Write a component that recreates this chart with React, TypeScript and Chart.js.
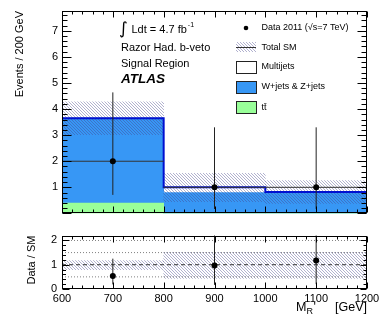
import React, { useEffect, useRef } from 'react';
import { Chart, registerables } from 'chart.js';

Chart.register(...registerables);

// ---------------- data ----------------
const binCenters = [700, 900, 1100];
const binEdges = [600, 800, 1000, 1200];
const ttbarEvents = [0.4, 0.0, 0.0];
const wzJetsEvents = [3.25, 0.8, 0.82];
const multijetEvents = [0.0, 0.2, 0.0];
const smBandLow = [3.02, 0.45, 0.38];
const smBandHigh = [4.28, 1.54, 1.26];
const dataEvents = [2, 1, 1];
const dataErrLow = [0.71, 0.17, 0.17];
const dataErrHigh = [4.64, 3.3, 3.3];
const ratioValues = [0.54, 0.97, 1.17];
const ratioErrLow = [0.19, 0.17, 0.2];
const ratioErrHigh = [1.25, 3.3, 4.0];
const ratioBandLow = [0.8, 0.44, 0.44];
const ratioBandHigh = [1.17, 1.51, 1.51];
const ratioDottedLines = [0.5, 1.5, 2.0];
const ratioUnityLine = [1.0];
const xRange = [600, 1200];
const topYRange = [0, 7.76];
const ratioYRange = [0, 2.2];
const legendLabels = ['Data 2011 (√s=7 TeV)', 'Total SM', 'Multijets', 'W+jets & Z+jets', 'tt̄'];
const infoLines = ['Razor Had. b-veto', 'Signal Region'];

// ---------------- style ----------------
const FONT = '"Liberation Sans", Arial, Helvetica, sans-serif';
const BLUE = '#3797f5';
const GREEN = '#99ff99';
const OUTLINE = '#0010d0';
const HATCH = 'rgba(70,70,140,0.42)';

Chart.defaults.font.family = FONT;
Chart.defaults.color = '#000';

function hatchPattern(): CanvasPattern | string {
  const c = document.createElement('canvas');
  c.width = 3;
  c.height = 3;
  const g = c.getContext('2d');
  if (!g) return HATCH;
  g.fillStyle = HATCH;
  for (let i = 0; i < 3; i++) g.fillRect(i, i, 1, 1);
  return g.createPattern(c, 'repeat') || HATCH;
}

const barCommon = {
  type: 'bar' as const,
  xAxisID: 'xb',
  barPercentage: 1,
  categoryPercentage: 1,
  grouped: false,
  borderWidth: 0,
};

function floating(lo: number[], hi: number[]) {
  return binCenters.map((x, i) => ({ x, y: [lo[i], hi[i]] }));
}

function verticalBars(lo: number[], hi: number[]) {
  const pts: any[] = [];
  binCenters.forEach((x, i) => {
    pts.push({ x, y: lo[i] }, { x, y: hi[i] }, { x, y: null });
  });
  return pts;
}

function horizontalBars(vals: number[]) {
  const pts: any[] = [];
  vals.forEach((v, i) => {
    pts.push({ x: binEdges[i], y: v }, { x: binEdges[i + 1], y: v }, { x: binEdges[i + 1], y: null });
  });
  return pts;
}

function flatLines(vals: number[]) {
  const pts: any[] = [];
  vals.forEach((v) => {
    pts.push({ x: xRange[0], y: v }, { x: xRange[1], y: v }, { x: xRange[1], y: null });
  });
  return pts;
}

type TickCfg = {
  xMajorStep: number; xMinorStep: number; xMajor: number; xMinor: number;
  yMajorStep: number; yMinorStep: number; yMajor: number; yMinor: number; yMajorR: number; yMinorR: number;
};

function framePlugin(cfg: TickCfg) {
  return {
    id: 'rootFrame',
    afterDatasetsDraw(chart: any) {
      const { ctx, chartArea: a, scales } = chart;
      const xs = scales.x;
      const ys = scales.y;
      const L = Math.round(a.left) + 0.5;
      const R = Math.round(a.right) - 0.5;
      const T = Math.round(a.top) + 0.5;
      const B = Math.round(a.bottom) - 0.5;
      ctx.save();
      ctx.strokeStyle = '#000';
      ctx.lineWidth = 1;
      ctx.beginPath();
      const nx = Math.round((xs.max - xs.min) / cfg.xMinorStep);
      for (let k = 0; k <= nx; k++) {
        const v = xs.min + k * cfg.xMinorStep;
        const r = v / cfg.xMajorStep;
        const major = Math.abs(r - Math.round(r)) < 1e-6;
        const len = major ? cfg.xMajor : cfg.xMinor;
        const px = Math.round(xs.getPixelForValue(v)) + 0.5;
        ctx.moveTo(px, B);
        ctx.lineTo(px, B - len);
        ctx.moveTo(px, T);
        ctx.lineTo(px, T + len);
      }
      const ny = Math.floor((ys.max - ys.min) / cfg.yMinorStep + 1e-6);
      for (let k = 0; k <= ny; k++) {
        const v = ys.min + k * cfg.yMinorStep;
        const r = v / cfg.yMajorStep;
        const major = Math.abs(r - Math.round(r)) < 1e-6;
        const py = Math.round(ys.getPixelForValue(v)) + 0.5;
        ctx.moveTo(L, py);
        ctx.lineTo(L + (major ? cfg.yMajor : cfg.yMinor), py);
        ctx.moveTo(R, py);
        ctx.lineTo(R - (major ? cfg.yMajorR : cfg.yMinorR), py);
      }
      ctx.stroke();
      ctx.strokeRect(L, T, R - L, B - T);
      ctx.restore();
    },
  };
}

const topTextPlugin = {
  id: 'atlasText',
  afterDraw(chart: any) {
    const ctx: CanvasRenderingContext2D = chart.ctx;
    const pattern = hatchPattern();
    ctx.save();
    ctx.fillStyle = '#000';
    ctx.textAlign = 'left';
    ctx.textBaseline = 'middle';
    // luminosity
    ctx.font = `17px "DejaVu Sans", ${FONT}`;
    ctx.fillText('∫', 119, 30);
    ctx.font = `11px ${FONT}`;
    const lumi = 'Ldt = 4.7 fb';
    ctx.fillText(lumi, 131.5, 30);
    const lw = ctx.measureText(lumi).width;
    ctx.font = `7px ${FONT}`;
    ctx.fillText('-1', 131.5 + lw + 1, 25.5);
    ctx.font = `11px ${FONT}`;
    ctx.fillText(infoLines[0], 121, 48);
    ctx.fillText(infoLines[1], 121, 63.5);
    ctx.font = `italic bold 13.5px ${FONT}`;
    ctx.fillText('ATLAS', 121, 79.5);

    // legend
    const tx = 261.5;
    const rows = [28, 47.5, 67, 87, 107.5];
    ctx.font = `9px ${FONT}`;
    legendLabels.forEach((lab, i) => ctx.fillText(lab, tx, rows[i]));
    // data marker
    ctx.beginPath();
    ctx.arc(246, rows[0], 2.3, 0, Math.PI * 2);
    ctx.fill();
    // total SM swatch
    ctx.fillStyle = pattern as any;
    ctx.fillRect(236, 42, 20, 10);
    ctx.strokeStyle = '#333';
    ctx.lineWidth = 1;
    ctx.beginPath();
    ctx.moveTo(236, 47.5);
    ctx.lineTo(256, 47.5);
    ctx.stroke();
    const boxes = [
      { y: rows[2], c: '#ffffff' },
      { y: rows[3], c: BLUE },
      { y: rows[4], c: GREEN },
    ];
    boxes.forEach((b) => {
      const top = Math.round(b.y - 6.5) + 0.5;
      ctx.fillStyle = b.c;
      ctx.fillRect(236.5, top, 20, 12);
      ctx.strokeStyle = '#222';
      ctx.strokeRect(236.5, top, 20, 12);
    });
    ctx.restore();
  },
};

const bottomTextPlugin = {
  id: 'xTitle',
  afterDraw(chart: any) {
    const ctx: CanvasRenderingContext2D = chart.ctx;
    ctx.save();
    ctx.fillStyle = '#000';
    ctx.textBaseline = 'alphabetic';
    ctx.textAlign = 'left';
    const base = 87;
    ctx.font = `12.5px ${FONT}`;
    ctx.fillText('M', 296, base);
    const mw = ctx.measureText('M').width;
    ctx.font = `9px ${FONT}`;
    ctx.fillText('R', 296 + mw, base + 3);
    const rw = ctx.measureText('R').width;
    ctx.font = `12.5px ${FONT}`;
    ctx.fillText("'", 296 + mw + rw + 0.5, base);
    ctx.textAlign = 'right';
    ctx.fillText('[GeV]', 367, base);
    ctx.restore();
  },
};

const plainNumber = (v: number) => String(v);

function topConfig(): any {
  const pattern = hatchPattern();
  const totals = binCenters.map((_, i) => ttbarEvents[i] + wzJetsEvents[i] + multijetEvents[i]);
  const wzTop = binCenters.map((_, i) => ttbarEvents[i] + wzJetsEvents[i]);
  const outline = [
    { x: binEdges[0], y: 0 },
    ...binCenters.map((_, i) => ({ x: binEdges[i], y: totals[i] })),
    { x: binEdges[3], y: totals[2] },
    { x: binEdges[3], y: 0 },
  ];
  return {
    type: 'bar',
    data: {
      datasets: [
        { ...barCommon, label: 'tt̄', data: floating([0, 0, 0], ttbarEvents), backgroundColor: GREEN, order: 5 },
        { ...barCommon, label: 'W+jets & Z+jets', data: floating(ttbarEvents, wzTop), backgroundColor: BLUE, order: 6 },
        { ...barCommon, label: 'Multijets', data: floating(wzTop, totals), backgroundColor: '#ffffff', order: 7 },
        { ...barCommon, label: 'Total SM uncertainty', data: floating(smBandLow, smBandHigh), backgroundColor: pattern, order: 4 },
        {
          type: 'line', label: 'Total SM', data: outline, stepped: 'before', borderColor: OUTLINE,
          borderWidth: 2, pointRadius: 0, fill: false, order: 3,
        },
        {
          type: 'line', label: 'Data x-err', data: horizontalBars(dataEvents), borderColor: '#333',
          borderWidth: 1, pointRadius: 0, spanGaps: false, fill: false, order: 2,
        },
        {
          type: 'line', label: 'Data y-err', data: verticalBars(dataErrLow, dataErrHigh), borderColor: '#222',
          borderWidth: 1, pointRadius: 0, spanGaps: false, fill: false, order: 1,
        },
        {
          type: 'line', label: 'Data 2011', data: binCenters.map((x, i) => ({ x, y: dataEvents[i] })),
          showLine: false, pointRadius: 3, pointBackgroundColor: '#000', pointBorderWidth: 0, order: 0,
        },
      ],
    },
    options: {
      responsive: false,
      maintainAspectRatio: false,
      animation: false,
      events: [],
      layout: { padding: { top: 11, right: 23, bottom: 3, left: 0 } },
      plugins: { legend: { display: false }, tooltip: { enabled: false } },
      scales: {
        x: { type: 'linear', min: xRange[0], max: xRange[1], display: false, offset: false, ticks: { stepSize: 100 } },
        xb: { type: 'linear', min: xRange[0], max: xRange[1], display: false, offset: false, ticks: { stepSize: 200 } },
        y: {
          type: 'linear', min: topYRange[0], max: topYRange[1],
          afterFit: (s: any) => { s.width = 62; },
          grid: { display: false, drawTicks: false, tickLength: 0 }, border: { display: false },
          ticks: {
            stepSize: 1, includeBounds: false, padding: 4, color: '#000', font: { size: 11 },
            callback: (v: number) => (v === 0 ? '' : plainNumber(v)),
          },
          title: { display: true, text: 'Events / 200 GeV', align: 'end', color: '#000', font: { size: 11 }, padding: { top: 13, bottom: 0 } },
        },
      },
    },
    plugins: [
      framePlugin({ xMajorStep: 100, xMinorStep: 20, xMajor: 6, xMinor: 3, yMajorStep: 1, yMinorStep: 0.2, yMajor: 9, yMinor: 5, yMajorR: 9, yMinorR: 5 }),
      topTextPlugin,
    ],
  };
}

function bottomConfig(): any {
  const pattern = hatchPattern();
  return {
    type: 'bar',
    data: {
      datasets: [
        { ...barCommon, label: 'SM uncertainty', data: floating(ratioBandLow, ratioBandHigh), backgroundColor: pattern, order: 5 },
        {
          type: 'line', label: 'Reference', data: flatLines(ratioDottedLines), borderColor: '#808080',
          borderWidth: 1, borderDash: [1, 2], pointRadius: 0, spanGaps: false, fill: false, order: 4,
        },
        {
          type: 'line', label: 'Unity', data: flatLines(ratioUnityLine), borderColor: '#333',
          borderWidth: 1, borderDash: [4, 3], pointRadius: 0, spanGaps: false, fill: false, order: 3,
        },
        {
          type: 'line', label: 'Ratio err', data: verticalBars(ratioErrLow, ratioErrHigh), borderColor: '#222',
          borderWidth: 1, pointRadius: 0, spanGaps: false, fill: false, order: 1,
        },
        {
          type: 'line', label: 'Data / SM', data: binCenters.map((x, i) => ({ x, y: ratioValues[i] })),
          showLine: false, pointRadius: 3, pointBackgroundColor: '#000', pointBorderWidth: 0, order: 0,
        },
      ],
    },
    options: {
      responsive: false,
      maintainAspectRatio: false,
      animation: false,
      events: [],
      layout: { padding: { top: 3, right: 23, bottom: 0, left: 0 } },
      plugins: { legend: { display: false }, tooltip: { enabled: false } },
      scales: {
        x: {
          type: 'linear', min: xRange[0], max: xRange[1], offset: false,
          afterFit: (s: any) => { s.height = 32; },
          grid: { display: false, drawTicks: false, tickLength: 0 }, border: { display: false },
          ticks: { stepSize: 100, autoSkip: false, maxRotation: 0, padding: 3, color: '#000', font: { size: 11 }, callback: plainNumber },
        },
        xb: { type: 'linear', min: xRange[0], max: xRange[1], display: false, offset: false, ticks: { stepSize: 200 } },
        y: {
          type: 'linear', min: ratioYRange[0], max: ratioYRange[1],
          afterFit: (s: any) => { s.width = 62; },
          grid: { display: false, drawTicks: false, tickLength: 0 }, border: { display: false },
          ticks: { stepSize: 1, includeBounds: false, padding: 5, color: '#000', font: { size: 11 }, callback: plainNumber },
          title: { display: true, text: 'Data / SM', align: 'end', color: '#000', font: { size: 11 }, padding: { top: 25, bottom: 0 } },
        },
      },
    },
    plugins: [
      framePlugin({ xMajorStep: 100, xMinorStep: 20, xMajor: 6, xMinor: 3, yMajorStep: 1, yMinorStep: 0.2, yMajor: 7, yMinor: 3.5, yMajorR: 6, yMinorR: 3 }),
      bottomTextPlugin,
    ],
  };
}

export default function App() {
  const topRef = useRef<HTMLCanvasElement>(null);
  const botRef = useRef<HTMLCanvasElement>(null);
  useEffect(() => {
    document.body.style.margin = '0';
    const top = new Chart(topRef.current as HTMLCanvasElement, topConfig());
    const bot = new Chart(botRef.current as HTMLCanvasElement, bottomConfig());
    return () => {
      top.destroy();
      bot.destroy();
    };
  }, []);
  return (
    <div style={{ position: 'relative', width: 390, height: 321, background: '#fff' }}>
      <canvas ref={topRef} width={390} height={224} style={{ position: 'absolute', left: 0, top: 0, display: 'block' }} />
      <canvas ref={botRef} width={390} height={97} style={{ position: 'absolute', left: 0, top: 224, display: 'block' }} />
    </div>
  );
}
